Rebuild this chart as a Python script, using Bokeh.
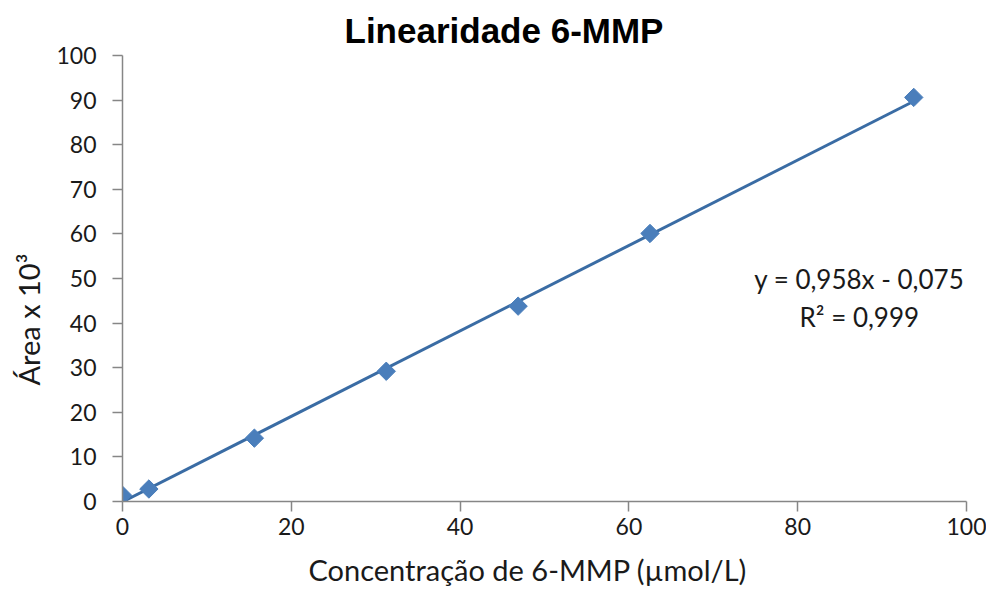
import math
from bokeh.plotting import figure
from bokeh.models import Range1d, FixedTicker, Title
from bokeh.core.properties import value
from bokeh.embed import file_html
from bokeh.resources import INLINE

# Data
conc = [0, 3.125, 15.625, 31.25, 46.875, 62.5, 93.75]
area = [1.4, 2.8, 14.2, 29.2, 43.8, 60.1, 90.6]
slope = 0.958
intercept = -0.075
eq_text = ["y = 0,958x - 0,075", "R\u00b2 = 0,999"]
x_ticks = [0, 20, 40, 60, 80, 100]
y_ticks = [0, 10, 20, 30, 40, 50, 60, 70, 80, 90, 100]

FONT = "Lato"
BLUE = "#4a7ebb"
LINE = "#3a6ca4"
TXT = "#1a1a1a"

p = figure(width=986, height=598, output_backend="svg", toolbar_location=None,
           x_range=Range1d(0, 100), y_range=Range1d(0, 100),
           min_border_left=122, min_border_right=20, min_border_top=55, min_border_bottom=97,
           title="Linearidade 6-MMP")

p.title.text_font = "Liberation Sans"
p.title.text_font_style = "bold"
p.title.text_font_size = "35px"
p.title.align = "left"
p.title.offset = 222
p.title.standoff = 12
p.title.text_color = "#000000"

p.outline_line_color = None
p.xgrid.grid_line_color = None
p.ygrid.grid_line_color = None
p.background_fill_color = "white"
p.border_fill_color = "white"

for ax in (p.xaxis[0], p.yaxis[0]):
    ax.axis_line_color = "#868686"
    ax.axis_line_width = 1.5
    ax.major_tick_line_color = "#868686"
    ax.major_tick_line_width = 1.5
    ax.major_tick_out = 10
    ax.major_tick_in = 0
    ax.minor_tick_line_color = None
    ax.major_label_text_font = FONT
    ax.major_label_text_font_size = "23px"
    ax.major_label_text_color = TXT

p.xaxis[0].ticker = FixedTicker(ticks=x_ticks)
p.yaxis[0].ticker = FixedTicker(ticks=y_ticks)
p.xaxis[0].major_label_standoff = 6
p.yaxis[0].major_label_standoff = 16

# axis titles placed like the original
xtitle = Title(text="Concentra\u00e7\u00e3o de 6-MMP (\u00b5mol/L)", align="left", offset=186,
               text_font=FONT, text_font_size="29px", text_font_style="normal",
               text_color=TXT, standoff=24)
p.add_layout(xtitle, "below")

ytitle = Title(text="\u00c1rea x 10\u00b3", align="left", offset=116,
               text_font=FONT, text_font_size="29px", text_font_style="normal",
               text_color=TXT, standoff=16)
p.add_layout(ytitle, "left")

# trend line from the fitted equation
tx = [min(conc), max(conc)]
ty = [slope * v + intercept for v in tx]
p.line(tx, ty, line_color=LINE, line_width=3)

p.scatter(conc, area, marker="square", size=13, angle=math.pi / 4,
          fill_color=BLUE, line_color=BLUE)

p.text(x=[87.3, 87.3], y=[49.8, 41.3], text=eq_text, text_font=value(FONT),
       text_font_size="26px", text_align="center", text_baseline="middle",
       text_color=TXT)

open("out.html", "w").write(file_html(p, INLINE))
